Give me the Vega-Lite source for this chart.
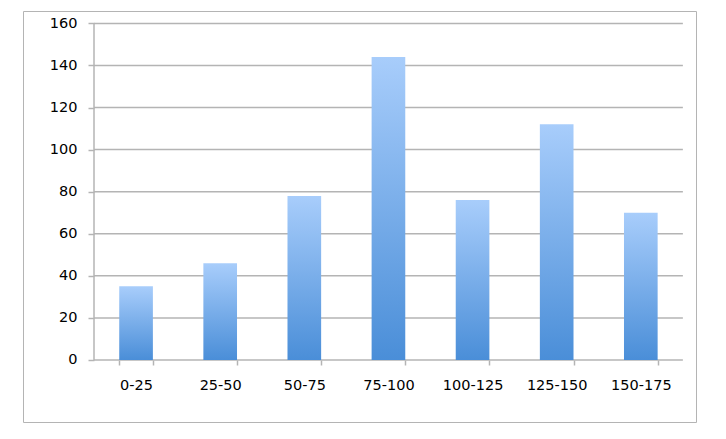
{
  "$schema": "https://vega.github.io/schema/vega-lite/v6.json",
  "width": 673,
  "height": 411,
  "autosize": {"type": "none"},
  "padding": {"left": 23, "top": 11, "right": 30, "bottom": 17},
  "background": "white",
  "config": {
    "view": {"stroke": "#b4b4b4", "strokeWidth": 1},
    "axis": {"labelFont": "DejaVu Sans", "labelFontSize": 14.5, "labelColor": "#000000"}
  },
  "data": {
    "values": [
      {"range": "0-25", "count": 35},
      {"range": "25-50", "count": 46},
      {"range": "50-75", "count": 78},
      {"range": "75-100", "count": 144},
      {"range": "100-125", "count": 76},
      {"range": "125-150", "count": 112},
      {"range": "150-175", "count": 70}
    ]
  },
  "encoding": {
    "x": {
      "field": "range",
      "type": "nominal",
      "sort": null,
      "scale": {
        "domain": ["0-25", "25-50", "50-75", "75-100", "100-125", "125-150", "150-175"],
        "paddingInner": 0.6, "paddingOuter": 0.8, "align": 0.715
      },
      "axis": {
        "title": null,
        "orient": "bottom",
        "offset": -62,
        "domain": false,
        "grid": false,
        "ticks": true,
        "tickBand": "extent",
        "tickSize": 5,
        "tickColor": "#b4b4b4",
        "tickWidth": 1.5,
        "labelAngle": 0,
        "labelPadding": 13
      }
    }
  },
  "layer": [
    {
      "data": {"values": [{"v": 0}, {"v": 20}, {"v": 40}, {"v": 60}, {"v": 80}, {"v": 100}, {"v": 120}, {"v": 140}, {"v": 160}]},
      "mark": {"type": "rule", "color": "#b4b4b4", "strokeWidth": 1.5},
      "encoding": {
        "x": {"datum": "0-25", "type": "nominal", "bandPosition": -0.75},
        "x2": {"datum": "150-175", "bandPosition": 1.75},
        "y": {"field": "v", "type": "quantitative"}
      }
    },
    {
      "data": {"values": [{"a": 0, "b": 160}]},
      "mark": {"type": "rule", "color": "#b4b4b4", "strokeWidth": 1.5},
      "encoding": {
        "x": {"datum": "0-25", "type": "nominal", "bandPosition": -0.75},
        "y": {"field": "a", "type": "quantitative"},
        "y2": {"field": "b"}
      }
    },
    {
      "mark": {
        "type": "bar",
        "color": {
          "gradient": "linear",
          "x1": 0, "y1": 0, "x2": 0, "y2": 1,
          "stops": [
            {"offset": 0, "color": "#a8cdfb"},
            {"offset": 1, "color": "#4a8ed8"}
          ]
        }
      },
      "encoding": {
        "y": {
          "field": "count",
          "type": "quantitative",
          "scale": {"domain": [-29.5, 165.9], "nice": false, "zero": false},
          "axis": {
            "title": null,
            "orient": "left",
            "offset": -71,
            "values": [0, 20, 40, 60, 80, 100, 120, 140, 160],
            "domain": false,
            "grid": false,
            "tickSize": 6,
            "tickColor": "#b4b4b4",
            "tickWidth": 1.5,
            "labelPadding": 11
          }
        }
      }
    }
  ]
}
